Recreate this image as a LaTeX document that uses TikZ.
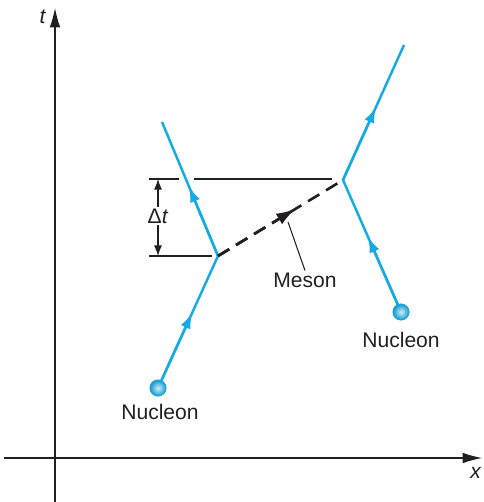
\documentclass[tikz,border=0pt]{standalone}
\usepackage{fontspec}
\setmainfont{Liberation Sans}
\usepackage{tikz}
\usetikzlibrary{arrows.meta,calc,positioning,shadings}
\definecolor{quark}{HTML}{14AAE6}
\definecolor{inkgray}{HTML}{231F20}

\begin{document}
\begin{tikzpicture}[x=0.02cm, y=-0.02cm, >={Latex[length=6pt,width=4.5pt]},
  font=\fontsize{12}{14}\selectfont,
  world/.style={inkgray, line width=0.6pt},
  track/.style={quark, line width=1.4pt, -{Latex[length=9pt,width=6pt]}},
  mesonline/.style={inkgray, line width=1.5pt, dash pattern=on 7.5pt off 4.5pt},
  nucleon/.style={circle, inner sep=0pt, minimum size=0.32cm, shading=radial,
    inner color=quark!20!white, outer color=quark!90!black, draw=quark, line width=0.4pt},
  lbl/.style={text=inkgray, inner sep=1pt}]
  \useasboundingbox (0,0) rectangle (483,502);
  % axes
  \draw[world, -{Latex[length=11pt,width=6pt]}] (55,502) -- (55,8);
  \draw[world, -{Latex[length=11pt,width=6pt]}] (4,458) -- (482,458);
  \node[lbl] (tlab) at (43,17) {\textit{t}};
  \node[lbl] (xlab) at (476,473) {\textit{x}};
  % vertices and ends
  \coordinate (v1) at (218,256);
  \coordinate (v2) at (343,180);
  \coordinate (e1) at (162,122);
  \coordinate (e2) at (404,45);
  \node[nucleon] (n1) at (158,388) {};
  \node[nucleon] (n2) at (401,312) {};
  % world lines
  \draw[track] (n1) -- ($(n1)!0.57!(v1)$);
  \draw[track, -] (n1) -- (v1);
  \draw[track] (v1) -- ($(v1)!0.52!(e1)$);
  \draw[track, -] (v1) -- (e1);
  \draw[track] (n2) -- ($(n2)!0.57!(v2)$);
  \draw[track, -] (n2) -- (v2);
  \draw[track] (v2) -- ($(v2)!0.54!(e2)$);
  \draw[track, -] (v2) -- (e2);
  \node[nucleon] at (n1) {};
  \node[nucleon] at (n2) {};
  % exchanged meson
  \draw[mesonline] (v1) -- (v2);
  \draw[mesonline, -{Latex[length=11pt,width=7pt]}] (v1) -- ($(v1)!0.62!(v2)$);
  \node[lbl] (meson) at (305,280) {Meson};
  \draw[world] (288,222) -- (meson.north);
  % time interval
  \draw[world] (149,179) -- (179,179);
  \draw[world] (194,179) -- (332,179);
  \draw[world] (149,256) -- (212,256);
  \node[lbl] (dt) at (158,216) {Δ\textit{t}};
  \draw[world, ->] (dt.north) -- (158,179);
  \draw[world, ->] (dt.south) -- (158,256);
  % labels
  \node[lbl] (lab1) at (160,412) {Nucleon};
  \node[lbl] (lab2) at (401,340) {Nucleon};
\end{tikzpicture}
\end{document}
